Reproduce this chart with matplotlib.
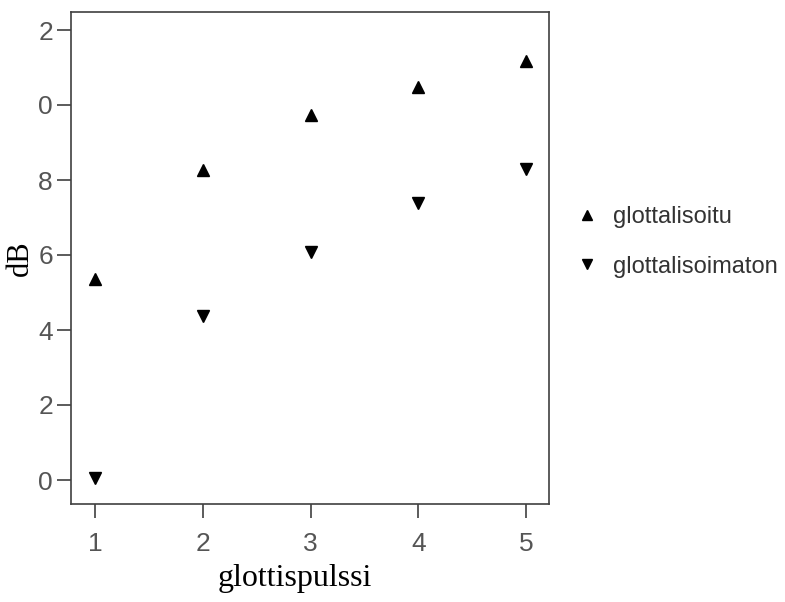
import matplotlib.pyplot as plt
from matplotlib.lines import Line2D

# data
pulssi = [1, 2, 3, 4, 5]
glottalisoitu = [5.36, 8.27, 9.73, 10.48, 11.17]
glottalisoimaton = [0.05, 4.37, 6.08, 7.39, 8.29]

# tick labels as they appear (leading digit clipped in the original)
y_ticks = [0, 2, 4, 6, 8, 10, 12]
y_labels = ["0", "2", "4", "6", "8", "0", "2"]

fig = plt.figure(figsize=(7.85, 6.02), dpi=100)
ax = fig.add_axes([71 / 785, 1 - 504 / 602, (549 - 71) / 785, (504 - 12) / 602])

ax.plot(pulssi, glottalisoitu, linestyle="none", marker="^", color="black", markersize=8)
ax.plot(pulssi, glottalisoimaton, linestyle="none", marker="v", color="black", markersize=8)

ax.set_xlim(0.777, 5.213)
ax.set_ylim(-0.64, 12.48)
ax.set_xticks(pulssi)
ax.set_yticks(y_ticks)
ax.set_yticklabels(y_labels)

gray = "#404040"
for s in ax.spines.values():
    s.set_color(gray)
    s.set_linewidth(1.2)
ax.tick_params(direction="out", length=10, width=1.2, color=gray,
               labelcolor="#555555", labelsize=19)
ax.tick_params(axis="x", pad=10)
ax.tick_params(axis="y", pad=3)
for lab in ax.get_xticklabels() + ax.get_yticklabels():
    lab.set_family("Liberation Sans")

ax.set_xlabel("glottispulssi", family="Liberation Serif", fontsize=23)
ax.set_ylabel("dB", family="Liberation Serif", fontsize=22)
ax.xaxis.set_label_coords(0.469, -0.122)
ax.yaxis.set_label_coords(-0.076, 0.5)

handles = [
    Line2D([], [], linestyle="none", marker="^", color="black", markersize=7),
    Line2D([], [], linestyle="none", marker="v", color="black", markersize=7),
]
leg = fig.legend(handles, ["glottalisoitu", "glottalisoimaton"],
                 loc="center left", bbox_to_anchor=(566 / 785, 1 - 242 / 602),
                 frameon=False, handlelength=1.0, handletextpad=0.6,
                 labelspacing=1.15, borderaxespad=0,
                 prop={"family": "Liberation Sans", "size": 17})
for t in leg.get_texts():
    t.set_color("#333333")

fig.savefig("out.png", dpi=100)
